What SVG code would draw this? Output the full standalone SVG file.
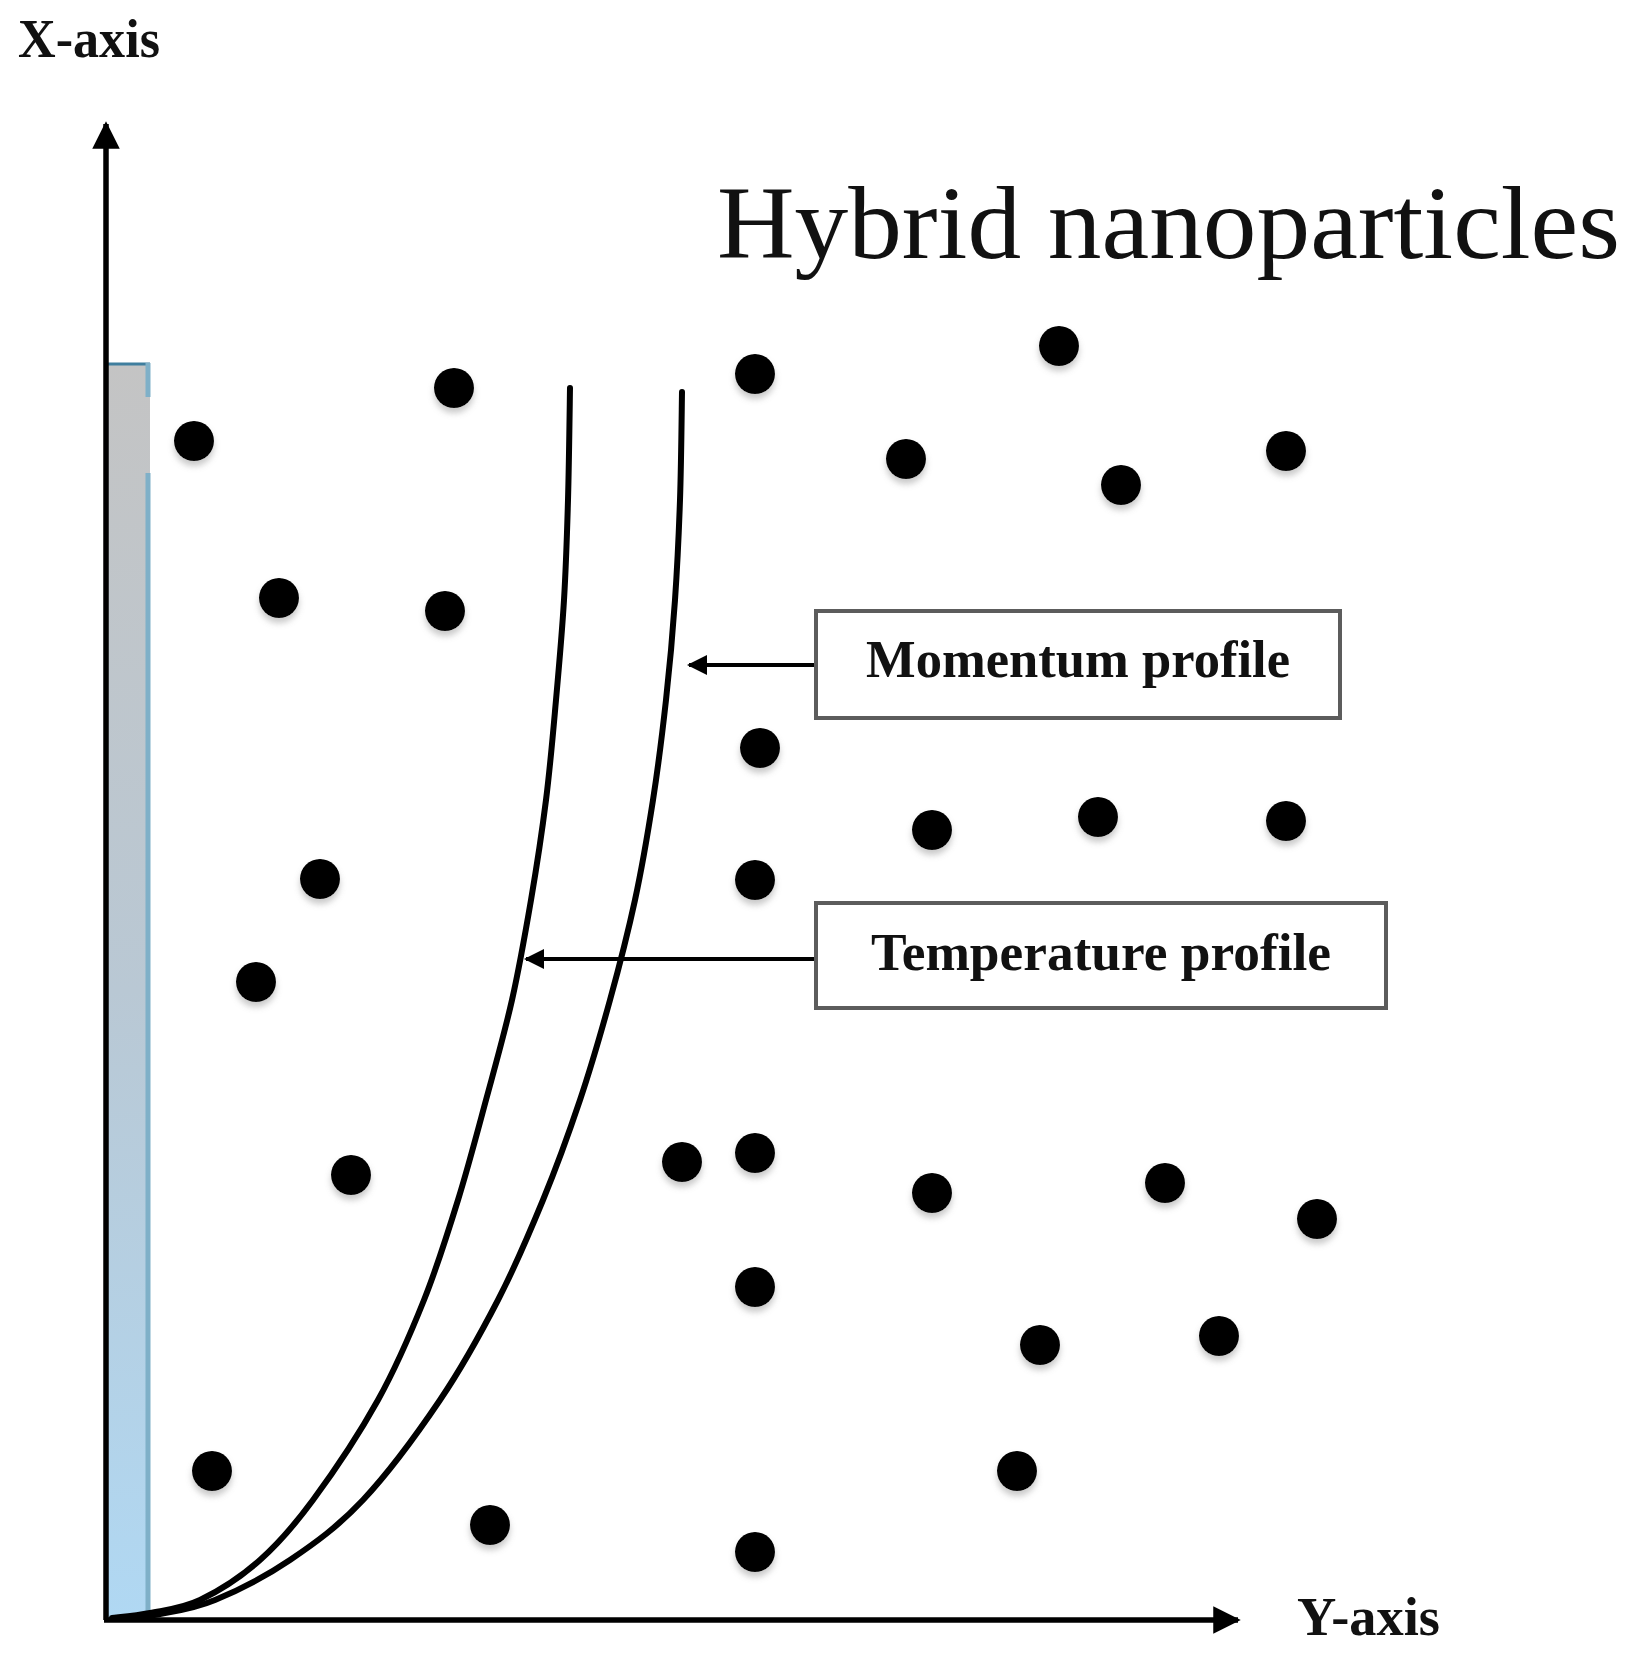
<svg xmlns="http://www.w3.org/2000/svg" width="1643" height="1665" viewBox="0 0 1643 1665">
<style>
.lbl{font-family:"Liberation Serif","Times New Roman",serif;font-weight:bold;fill:#111}
.title{font-family:"Liberation Serif","Times New Roman",serif;fill:#111}
.box{fill:#fff;stroke:#5c5c5c;stroke-width:4}
.axis{stroke:#000;stroke-width:5.5;fill:none}
.curve{stroke:#000;stroke-width:6;fill:none;stroke-linecap:round}
.ptr{stroke:#000;stroke-width:4;fill:none}
.dot{fill:#000;filter:url(#sh)}
</style>
<defs>
<linearGradient id="wallg" x1="0" y1="0" x2="0" y2="1">
<stop offset="0" stop-color="#c4c4c4"/>
<stop offset="0.5" stop-color="#b9c8d4"/>
<stop offset="1" stop-color="#b0d8f3"/>
</linearGradient>
<filter id="sh" x="-50%" y="-50%" width="200%" height="220%">
<feDropShadow dx="0" dy="5" stdDeviation="3" flood-color="#888" flood-opacity="0.45"/>
</filter>
<marker id="ah" viewBox="0 0 10 10" refX="9" refY="5" markerWidth="5" markerHeight="5" orient="auto" markerUnits="strokeWidth">
<path d="M0,0 L10,5 L0,10 z" fill="#000"/>
</marker>
<marker id="ahs" viewBox="0 0 10 10" refX="9" refY="5" markerWidth="5" markerHeight="5" orient="auto" markerUnits="strokeWidth">
<path d="M0,0 L10,5 L0,10 z" fill="#000"/>
</marker>
</defs>
<rect width="1643" height="1665" fill="#fff"/>

<g id="wall">
<rect x="107" y="363" width="43" height="1255" fill="url(#wallg)"/>
<line x1="107" y1="364" x2="150" y2="364" stroke="#3f7e9e" stroke-width="3"/>
<line x1="148" y1="363" x2="148" y2="397" stroke="#7fb0c8" stroke-width="5"/>
<line x1="148" y1="473" x2="148" y2="1618" stroke="#7fb0c8" stroke-width="5"/>
<rect x="151" y="397" width="6" height="76" fill="#fff"/>
</g>

<g id="axes">
<line class="axis" x1="106" y1="1620" x2="106" y2="124" marker-end="url(#ah)"/>
<line class="axis" x1="104" y1="1620" x2="1238" y2="1620" marker-end="url(#ah)"/>
<text id="x-axis-label" class="lbl" x="18" y="57" font-size="54" textLength="142" lengthAdjust="spacingAndGlyphs">X-axis</text>
<text id="y-axis-label" class="lbl" x="1297" y="1635" font-size="54" textLength="143" lengthAdjust="spacingAndGlyphs">Y-axis</text>
</g>

<text id="title" class="title" x="717" y="258" font-size="104" textLength="903" lengthAdjust="spacingAndGlyphs">Hybrid nanoparticles</text>

<g id="curves">
<path class="curve" d="M570,388 C569.7,406.7 569,464.7 568,500 S566,566.7 564,600 S559,666.7 556,700 S550.2,766.7 546,800 S536.7,866.7 531,900 S519.5,966.7 512,1000 S495,1066.7 486,1100 S468.3,1166.7 458,1200 S437.3,1266.7 424,1300 S396.5,1366.7 378,1400 S332.7,1473.3 313,1500 S278.8,1543.3 260,1560 S218.3,1591.2 200,1600 S164.7,1610 150,1613 S118.3,1617.2 112,1618"/>
<path class="curve" d="M682,392 C681.7,410 681.2,465.3 680,500 S677.3,566.7 675,600 S669.7,666.7 666,700 S658.2,766.7 653,800 S642.2,866.7 635,900 S619.2,966.7 610,1000 S591.2,1066.7 580,1100 S556.7,1166.7 543,1200 S515.2,1266.7 498,1300 S462.5,1366.7 440,1400 S388,1473.3 363,1500 S314.7,1543.3 290,1560 S236.7,1591 215,1600 S176.7,1610.8 160,1614 S122.5,1618.2 115,1619"/>
</g>

<g id="dots">
<circle class="dot" cx="194" cy="441" r="20"/>
<circle class="dot" cx="454" cy="388" r="20"/>
<circle class="dot" cx="755" cy="374" r="20"/>
<circle class="dot" cx="1059" cy="346" r="20"/>
<circle class="dot" cx="906" cy="459" r="20"/>
<circle class="dot" cx="1121" cy="485" r="20"/>
<circle class="dot" cx="1286" cy="451" r="20"/>
<circle class="dot" cx="279" cy="598" r="20"/>
<circle class="dot" cx="445" cy="611" r="20"/>
<circle class="dot" cx="760" cy="748" r="20"/>
<circle class="dot" cx="932" cy="830" r="20"/>
<circle class="dot" cx="1098" cy="817" r="20"/>
<circle class="dot" cx="1286" cy="821" r="20"/>
<circle class="dot" cx="320" cy="879" r="20"/>
<circle class="dot" cx="755" cy="880" r="20"/>
<circle class="dot" cx="256" cy="982" r="20"/>
<circle class="dot" cx="351" cy="1175" r="20"/>
<circle class="dot" cx="682" cy="1162" r="20"/>
<circle class="dot" cx="755" cy="1153" r="20"/>
<circle class="dot" cx="932" cy="1193" r="20"/>
<circle class="dot" cx="1165" cy="1183" r="20"/>
<circle class="dot" cx="1317" cy="1219" r="20"/>
<circle class="dot" cx="755" cy="1287" r="20"/>
<circle class="dot" cx="1040" cy="1345" r="20"/>
<circle class="dot" cx="1219" cy="1336" r="20"/>
<circle class="dot" cx="212" cy="1471" r="20"/>
<circle class="dot" cx="1017" cy="1471" r="20"/>
<circle class="dot" cx="490" cy="1525" r="20"/>
<circle class="dot" cx="755" cy="1552" r="20"/>
</g>

<g id="connectors">
<line class="ptr" x1="816" y1="665" x2="689" y2="665" marker-end="url(#ahs)"/>
<line class="ptr" x1="816" y1="959" x2="526" y2="959" marker-end="url(#ahs)"/>
</g>

<g id="momentum-profile">
<rect class="box" x="816" y="611" width="524" height="107"/>
<text class="lbl" x="1078" y="677" font-size="52" text-anchor="middle" textLength="424" lengthAdjust="spacingAndGlyphs">Momentum profile</text>
</g>

<g id="temperature-profile">
<rect class="box" x="816" y="903" width="570" height="105"/>
<text class="lbl" x="1101" y="970" font-size="52" text-anchor="middle" textLength="460" lengthAdjust="spacingAndGlyphs">Temperature profile</text>
</g>
</svg>
